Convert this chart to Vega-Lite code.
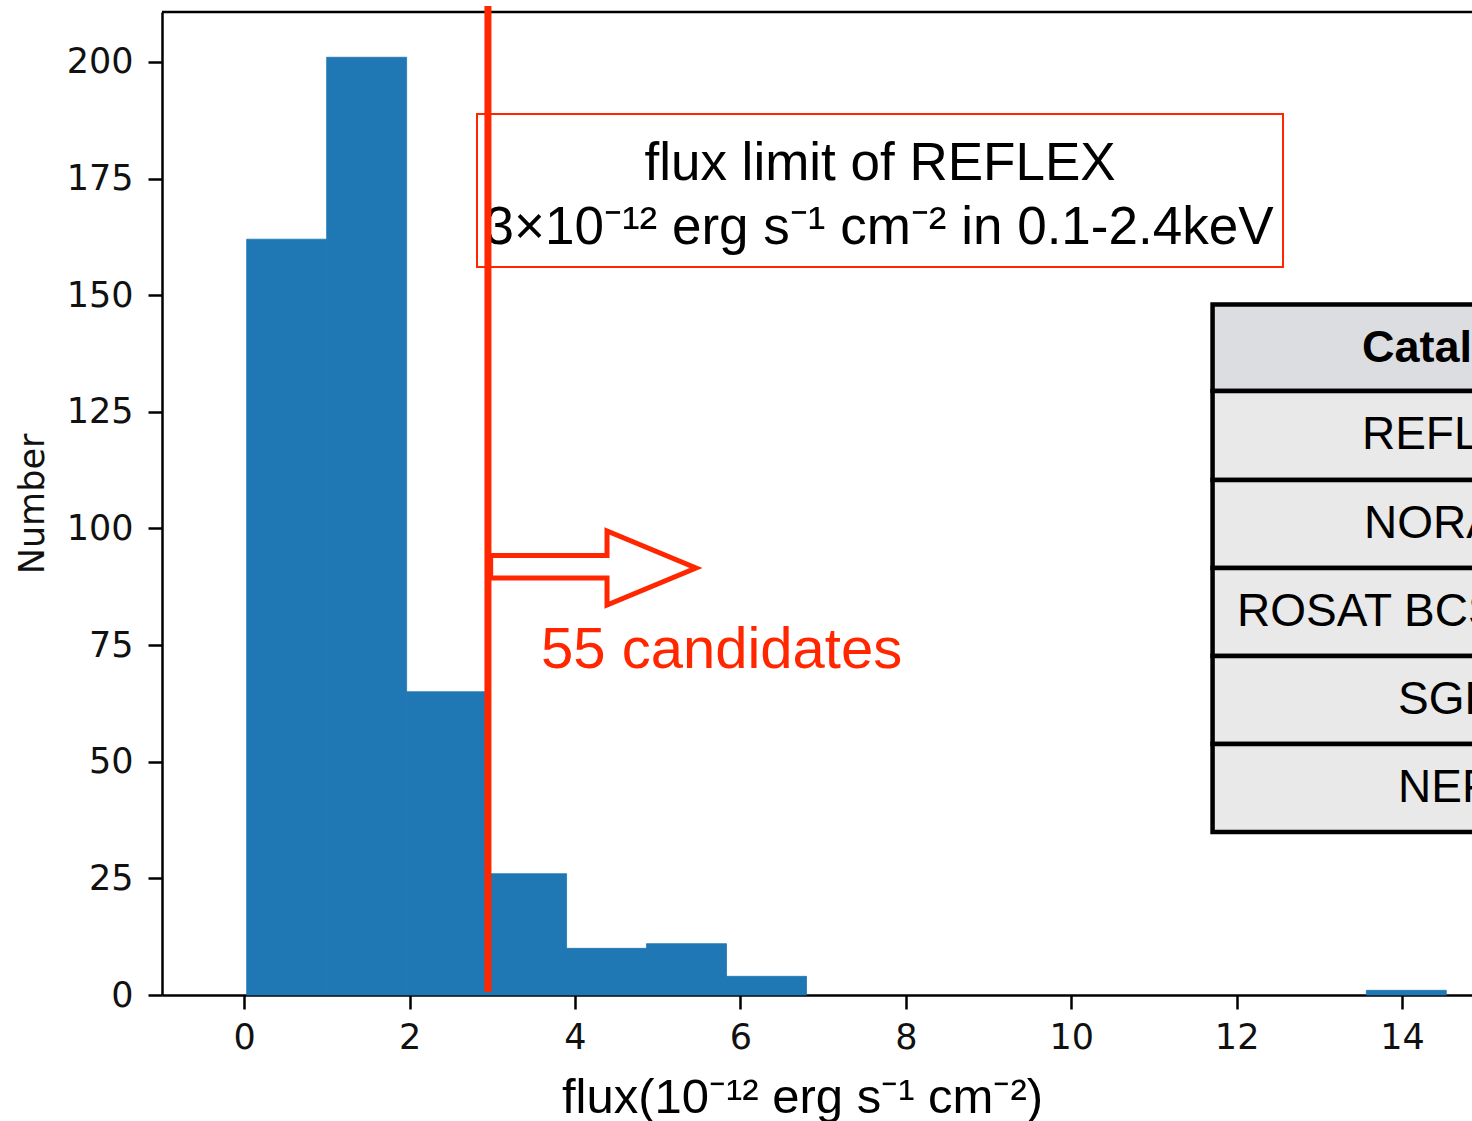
{
  "$schema": "https://vega.github.io/schema/vega-lite/v6.json",
  "width": 1310,
  "height": 983,
  "autosize": {"type": "none"},
  "padding": {"left": 162, "top": 12, "right": 0, "bottom": 126},
  "background": "white",
  "config": {
    "view": {"stroke": null},
    "axis": {
      "grid": false,
      "domainColor": "#000000",
      "domainWidth": 2.5,
      "tickColor": "#000000",
      "tickWidth": 2.5,
      "tickSize": 14,
      "labelFont": "DejaVu Sans",
      "labelFontSize": 35,
      "labelColor": "#111111",
      "labelOverlap": false,
      "labelFlush": false
    }
  },
  "datasets": {
    "hist": [
      {"x": 0.030, "x2": 0.997, "y": 162},
      {"x": 0.997, "x2": 1.964, "y": 201},
      {"x": 1.964, "x2": 2.931, "y": 65},
      {"x": 2.931, "x2": 3.898, "y": 26},
      {"x": 3.898, "x2": 4.865, "y": 10},
      {"x": 4.865, "x2": 5.832, "y": 11},
      {"x": 5.832, "x2": 6.799, "y": 4},
      {"x": 6.799, "x2": 7.766, "y": 0},
      {"x": 7.766, "x2": 8.733, "y": 0},
      {"x": 8.733, "x2": 9.700, "y": 0},
      {"x": 9.700, "x2": 10.667, "y": 0},
      {"x": 10.667, "x2": 11.634, "y": 0},
      {"x": 11.634, "x2": 12.601, "y": 0},
      {"x": 12.601, "x2": 13.568, "y": 0},
      {"x": 13.568, "x2": 14.535, "y": 1}
    ],
    "frame": [{"x": -0.994, "x2": 14.846, "y": 210.7}],
    "table_cells": [
      {"x": 11.709, "x2": 17, "y": 148.02, "y2": 129.47, "kind": "header"},
      {"x": 11.709, "x2": 17, "y": 129.47, "y2": 110.40, "kind": "row"},
      {"x": 11.709, "x2": 17, "y": 110.40, "y2": 91.53, "kind": "row"},
      {"x": 11.709, "x2": 17, "y": 91.53, "y2": 72.67, "kind": "row"},
      {"x": 11.709, "x2": 17, "y": 72.67, "y2": 53.80, "kind": "row"},
      {"x": 11.709, "x2": 17, "y": 53.80, "y2": 34.94, "kind": "row"}
    ],
    "table_header": [{"x": 13.515, "y": 138.75, "label": "Catalog"}],
    "table_rows": [
      {"x": 13.515, "y": 119.94, "label": "REFLEX"},
      {"x": 13.540, "y": 100.97, "label": "NORAS"},
      {"x": 12.005, "y": 82.10, "label": "ROSAT BCS"},
      {"x": 13.952, "y": 63.24, "label": "SGP"},
      {"x": 13.952, "y": 44.37, "label": "NEP"}
    ],
    "box": [{"x": 2.815, "x2": 12.561, "y": 188.85, "y2": 156.06}],
    "box_text": [
      {"x": 7.688, "y": 174.7, "label": "flux limit of REFLEX"},
      {"x": 7.676, "y": 161.0, "label": "3×10⁻¹² erg s⁻¹ cm⁻² in 0.1-2.4keV"}
    ],
    "limit": [{"x": 2.947, "y": 0.64, "y2": 212.0}],
    "arrow": [
      {"x": 2.980, "y": 94.21, "o": 1},
      {"x": 4.387, "y": 94.21, "o": 2},
      {"x": 4.387, "y": 99.46, "o": 3},
      {"x": 5.463, "y": 91.53, "o": 4},
      {"x": 4.387, "y": 83.60, "o": 5},
      {"x": 4.387, "y": 89.39, "o": 6},
      {"x": 2.980, "y": 89.39, "o": 7},
      {"x": 2.980, "y": 94.21, "o": 8}
    ],
    "cand": [{"x": 3.589, "y": 70.1, "label": "55 candidates"}]
  },
  "encoding": {
    "x": {
      "field": "x",
      "type": "quantitative",
      "scale": {"domain": [-0.994, 14.846], "nice": false, "zero": false},
      "axis": {
        "values": [0, 2, 4, 6, 8, 10, 12, 14],
        "labelPadding": 11,
        "title": "flux(10⁻¹² erg s⁻¹ cm⁻²)",
        "titleFont": "Liberation Sans",
        "titleFontSize": 49,
        "titleFontWeight": "normal",
        "titleColor": "#000000",
        "titleX": 640,
        "titleY": 117,
        "titleAlign": "center",
        "titleBaseline": "alphabetic"
      }
    },
    "y": {
      "field": "y",
      "type": "quantitative",
      "scale": {"domain": [0, 210.7], "nice": false, "zero": false},
      "axis": {
        "values": [0, 25, 50, 75, 100, 125, 150, 175, 200],
        "labelPadding": 15,
        "title": "Number",
        "titleFont": "DejaVu Sans",
        "titleFontSize": 35,
        "titleFontWeight": "normal",
        "titleColor": "#111111",
        "titleAngle": -90,
        "titleX": -119,
        "titleY": 491.5,
        "titleAlign": "center",
        "titleBaseline": "alphabetic"
      }
    }
  },
  "layer": [
    {
      "data": {"name": "hist"},
      "transform": [{"filter": "datum.y > 0"}],
      "mark": {"type": "rect", "color": "#1f77b4", "stroke": "#1f77b4", "strokeWidth": 0.8},
      "encoding": {"x2": {"field": "x2"}, "y2": {"datum": 0}}
    },
    {
      "data": {"name": "frame"},
      "mark": {"type": "rule", "color": "#000000", "strokeWidth": 2.5},
      "encoding": {"x2": {"field": "x2"}}
    },
    {
      "data": {"name": "table_cells"},
      "mark": {"type": "rect", "stroke": "#000000", "strokeWidth": 4.5, "clip": false},
      "encoding": {
        "x2": {"field": "x2"},
        "y2": {"field": "y2"},
        "fill": {"field": "kind", "type": "nominal", "scale": {"domain": ["header", "row"], "range": ["#dcdde0", "#e9e9e9"]}, "legend": null}
      }
    },
    {
      "data": {"name": "table_header"},
      "mark": {"type": "text", "font": "Liberation Sans", "fontSize": 45, "fontWeight": "bold", "align": "left", "baseline": "middle", "color": "#000000", "clip": false},
      "encoding": {"text": {"field": "label"}}
    },
    {
      "data": {"name": "table_rows"},
      "mark": {"type": "text", "font": "Liberation Sans", "fontSize": 46, "align": "left", "baseline": "middle", "color": "#000000", "clip": false},
      "encoding": {"text": {"field": "label"}}
    },
    {
      "data": {"name": "box"},
      "mark": {"type": "rect", "fill": null, "filled": false, "stroke": "#ff2600", "strokeWidth": 2},
      "encoding": {"x2": {"field": "x2"}, "y2": {"field": "y2"}}
    },
    {
      "data": {"name": "box_text"},
      "mark": {"type": "text", "font": "Liberation Sans", "fontSize": 53, "align": "center", "baseline": "alphabetic", "color": "#000000"},
      "encoding": {"text": {"field": "label"}}
    },
    {
      "data": {"name": "limit"},
      "mark": {"type": "rule", "color": "#ff2600", "strokeWidth": 7, "clip": false},
      "encoding": {"y2": {"field": "y2"}}
    },
    {
      "data": {"name": "arrow"},
      "mark": {"type": "line", "color": "#ff2600", "strokeWidth": 5, "strokeJoin": "miter", "strokeCap": "butt"},
      "encoding": {"order": {"field": "o", "type": "quantitative"}}
    },
    {
      "data": {"name": "cand"},
      "mark": {"type": "text", "font": "Liberation Sans", "fontSize": 58, "align": "left", "baseline": "alphabetic", "color": "#ff2600"},
      "encoding": {"text": {"field": "label"}}
    }
  ]
}
